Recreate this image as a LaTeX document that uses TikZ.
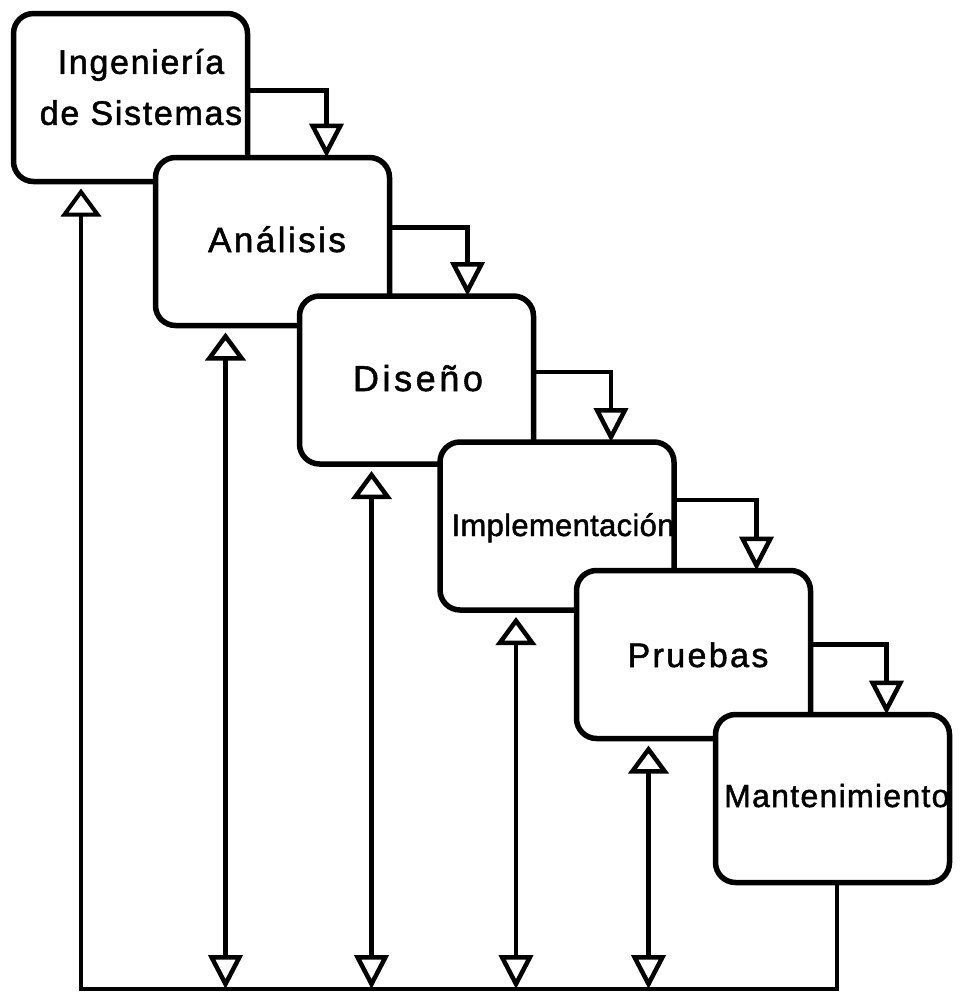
\documentclass[tikz,border=0pt]{standalone}
\usepackage{fontspec}
\setmainfont{Liberation Sans}
\usetikzlibrary{arrows.meta,calc}
\begin{document}
\begin{tikzpicture}[x=1pt,y=-1pt,
  stage/.style={draw, line width=5.5pt, rounded corners=20pt, fill=white,
    minimum width=234pt, minimum height=168pt, inner sep=0pt, outer sep=0pt},
  lbl/.style={inner sep=0pt, align=center},
  wire/.style={line width=4.5pt, line join=miter},
  UpTip/.tip={Triangle[open, length=28pt, width=40pt, sep=7pt]},
  DownTip/.tip={Triangle[open, length=34pt, width=34pt]},
  sz/.style n args={2}{font=\fontsize{#1}{#1}\selectfont\addfontfeature{LetterSpace=#2,FakeBold=1.5}}
]
\useasboundingbox (0,0) rectangle (959,993);

% the six stages, each one overlapping the previous
\node[stage] (b1) at (130.5,97.5) {};
\node[lbl, font=\fontsize{34}{51}\selectfont\addfontfeature{LetterSpace=5,FakeBold=1.5}] (t1) at (141,87) {Ingeniería\\de Sistemas};
\node[stage] (b2) at (272.5,241.5) {};
\node[lbl, sz={35}{7}, anchor=base] (t2) at (277,252) {Análisis};
\node[stage] (b3) at (416.5,380) {};
\node[lbl, sz={36}{10}, anchor=base] (t3) at (418,391) {Diseño};
\node[stage] (b4) at (557,526) {};
\node[lbl, sz={31}{1}, anchor=base] (t4) at (563,536) {Implementación};
\node[stage] (b5) at (693.5,654.5) {};
\node[lbl, sz={34}{7}, anchor=base] (t5) at (698,667) {Pruebas};
\node[stage] (b6) at (832.5,798.5) {};
\node[lbl, sz={32}{4}, anchor=base west] (t6) at (724,807) {Mantenimiento};

% forward flow from each stage to the next
\draw[wire, -DownTip] ($(b1.north east)+(0,77)$) -| ($(b2.north west)+(171,0)$);
\draw[wire, -DownTip] ($(b2.north east)+(0,70)$) -| ($(b3.north west)+(168,0)$);
\draw[wire, -DownTip] ($(b3.north east)+(0,76)$) -| ($(b4.north west)+(171,0)$);
\draw[wire, -DownTip] ($(b4.north east)+(0,58)$) -| ($(b5.north west)+(180,0)$);
\draw[wire, -DownTip] ($(b5.north east)+(0,74)$) -| ($(b6.north west)+(171,0)$);

% feedback bus along the bottom
\coordinate (bl) at (81,989);
\coordinate (br) at (837,989);
\draw[wire, line width=4pt, -UpTip] (br |- b6.south) -- (br) -- (bl) -- (bl |- b1.south);

% two-way links between each stage and the bus
\draw[wire, UpTip-DownTip] ($(b2.south west)+(70,0)$) coordinate (f2) -- (f2 |- bl);
\draw[wire, UpTip-DownTip] ($(b3.south west)+(72,0)$) coordinate (f3) -- (f3 |- bl);
\draw[wire, UpTip-DownTip] ($(b4.south west)+(76,0)$) coordinate (f4) -- (f4 |- bl);
\draw[wire, UpTip-DownTip] ($(b5.south west)+(72,0)$) coordinate (f5) -- (f5 |- bl);
\end{tikzpicture}
\end{document}
